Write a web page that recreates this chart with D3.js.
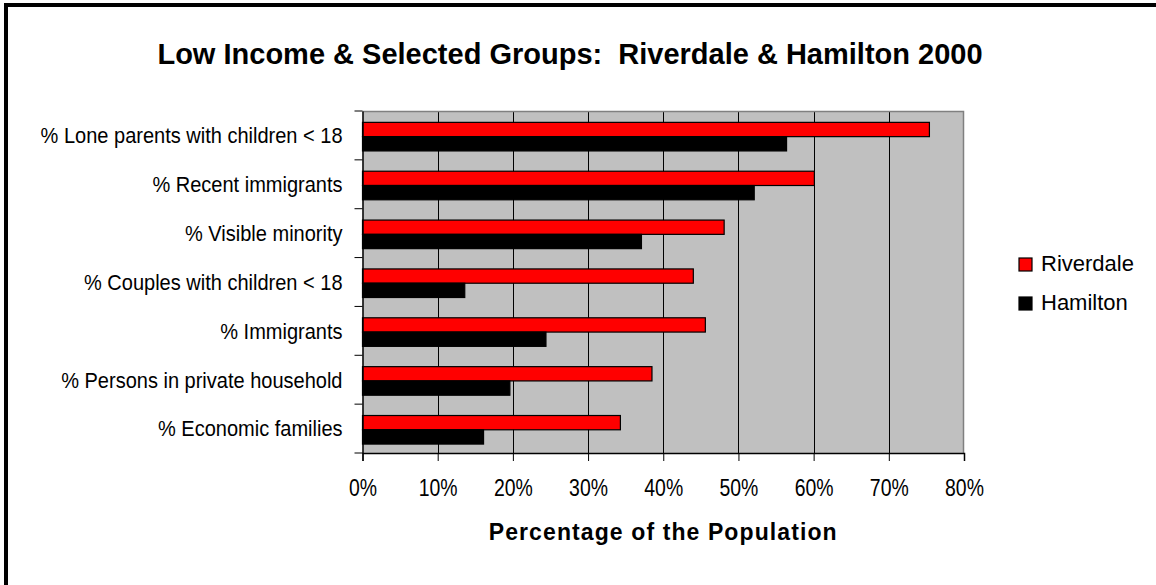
<!DOCTYPE html>
<html>
<head>
<meta charset="utf-8">
<script src="https://cdn.jsdelivr.net/npm/d3@7"></script>
<style>
  html, body { margin: 0; padding: 0; background: #fff; }
  svg { display: block; }
  text { font-family: "Liberation Sans", Arial, sans-serif; }
</style>
</head>
<body>
<svg id="chart" width="1156" height="585"></svg>
<script>
const categories = [
    "% Lone parents with children < 18",
    "% Recent immigrants",
    "% Visible minority",
    "% Couples with children < 18",
    "% Immigrants",
    "% Persons in private household",
    "% Economic families"
];
const seriesNames = ["Riverdale", "Hamilton"];
const riverdale = [75.4, 60.1, 48.1, 44.0, 45.6, 38.5, 34.3];
const hamilton = [56.4, 52.1, 37.1, 13.6, 24.4, 19.6, 16.1];
const xTicks = [0, 10, 20, 30, 40, 50, 60, 70, 80];
const seriesColors = ["#ff0000", "#000000"];

const svg = d3.select("#chart");

// squeeze text horizontally (no narrow font available), keeping its anchor x
const narrow = (sel, sx) => sel.each(function() {
    const t = d3.select(this);
    const x0 = +t.attr("x") || 0;
    t.attr("x", x0 / sx).attr("transform", `scale(${sx},1)`);
});

// outer frame, only top and left edges show inside the window
svg.append("rect")
    .attr("x", 6).attr("y", 5)
    .attr("width", 1300).attr("height", 800)
    .attr("fill", "none")
    .attr("stroke", "#000")
    .attr("stroke-width", 4);

const plot = { left: 362.5, right: 964, top: 111, bottom: 453 };

const x = d3.scaleLinear()
    .domain([0, 80])
    .range([plot.left, plot.right]);

const y = d3.scaleBand()
    .domain(categories)
    .range([plot.top, plot.bottom]);

const ySub = d3.scaleBand()
    .domain(seriesNames)
    .range([0, y.bandwidth()])
    .paddingOuter(0.71)
    .align(0.56);

// plot background
svg.append("rect")
    .attr("x", plot.left).attr("y", plot.top)
    .attr("width", plot.right - plot.left)
    .attr("height", plot.bottom - plot.top)
    .attr("fill", "#c0c0c0");

// vertical gridlines
svg.append("g")
    .selectAll("line")
    .data(xTicks.slice(1, -1))
    .enter().append("line")
    .attr("x1", d => Math.round(x(d)) + 0.5)
    .attr("x2", d => Math.round(x(d)) + 0.5)
    .attr("y1", plot.top).attr("y2", plot.bottom)
    .attr("stroke", "#000")
    .attr("stroke-width", 1);

// gray border top/right
svg.append("path")
    .attr("d", `M${plot.left},${plot.top + 0.5}H${plot.right - 0.5}V${plot.bottom}`)
    .attr("fill", "none")
    .attr("stroke", "#808080")
    .attr("stroke-width", 1.5);

// bars
const data = categories.map((c, i) => ({ cat: c, values: [riverdale[i], hamilton[i]] }));

const groups = svg.append("g")
    .selectAll("g")
    .data(data)
    .enter().append("g")
    .attr("transform", d => `translate(0,${y(d.cat)})`);

groups.selectAll("rect")
    .data(d => d.values.map((v, j) => ({ name: seriesNames[j], value: v, color: seriesColors[j] })))
    .enter().append("rect")
    .attr("x", x(0))
    .attr("y", d => ySub(d.name))
    .attr("width", d => x(d.value) - x(0))
    .attr("height", ySub.bandwidth())
    .attr("fill", d => d.color)
    .attr("stroke", "#000")
    .attr("stroke-width", 1.2);

// x axis
const xAxis = svg.append("g")
    .attr("transform", `translate(0,${plot.bottom})`)
    .call(d3.axisBottom(x).tickValues(xTicks).tickFormat(d => d + "%").tickSize(8).tickPadding(18));
xAxis.attr("font-family", null).attr("font-size", null);
xAxis.select(".domain").attr("stroke", "#000").attr("stroke-width", 1.5);
xAxis.selectAll(".tick line").attr("stroke", "#000").attr("stroke-width", 1);
xAxis.selectAll(".tick text")
    .attr("font-size", 24)
    .attr("fill", "#000")
    .call(narrow, 0.81);

// y axis
const yAxis = svg.append("g")
    .attr("transform", `translate(${plot.left},0)`)
    .call(d3.axisLeft(y).tickSize(0).tickPadding(20));
yAxis.attr("font-family", null).attr("font-size", null);
yAxis.select(".domain").attr("stroke", "#000").attr("stroke-width", 1.5);
yAxis.selectAll(".tick text")
    .attr("font-size", 22)
    .attr("fill", "#000")
    .attr("dy", "0.36em")
    .call(narrow, 0.91);

// category boundary ticks on the left axis
const bounds = categories.map(c => y(c)).concat([plot.bottom]);
svg.append("g")
    .selectAll("line")
    .data(bounds)
    .enter().append("line")
    .attr("x1", plot.left - 8).attr("x2", plot.left)
    .attr("y1", d => d).attr("y2", d => d)
    .attr("stroke", "#000")
    .attr("stroke-width", 1);

// title
svg.append("text")
    .attr("x", 570).attr("y", 64)
    .attr("text-anchor", "middle")
    .attr("font-size", 29)
    .attr("font-weight", "bold")
    .style("white-space", "pre")
    .text("Low Income & Selected Groups:  Riverdale & Hamilton 2000");

// x axis title
svg.append("text")
    .attr("x", (plot.left + plot.right) / 2).attr("y", 540)
    .attr("text-anchor", "middle")
    .attr("font-size", 23)
    .attr("font-weight", "bold")
    .attr("letter-spacing", 1.1)
    .text("Percentage of the Population");

// legend
const legend = svg.append("g")
    .attr("transform", "translate(1019,0)")
    .selectAll("g")
    .data(seriesNames)
    .enter().append("g")
    .attr("transform", (d, i) => `translate(0,${258 + i * 39})`);

legend.append("rect")
    .attr("width", 13).attr("height", 13)
    .attr("fill", (d, i) => seriesColors[i])
    .attr("stroke", "#000")
    .attr("stroke-width", 1.2);

legend.append("text")
    .attr("x", 22).attr("y", 13)
    .attr("font-size", 22)
    .attr("fill", "#000")
    .text(d => d);
</script>
</body>
</html>
